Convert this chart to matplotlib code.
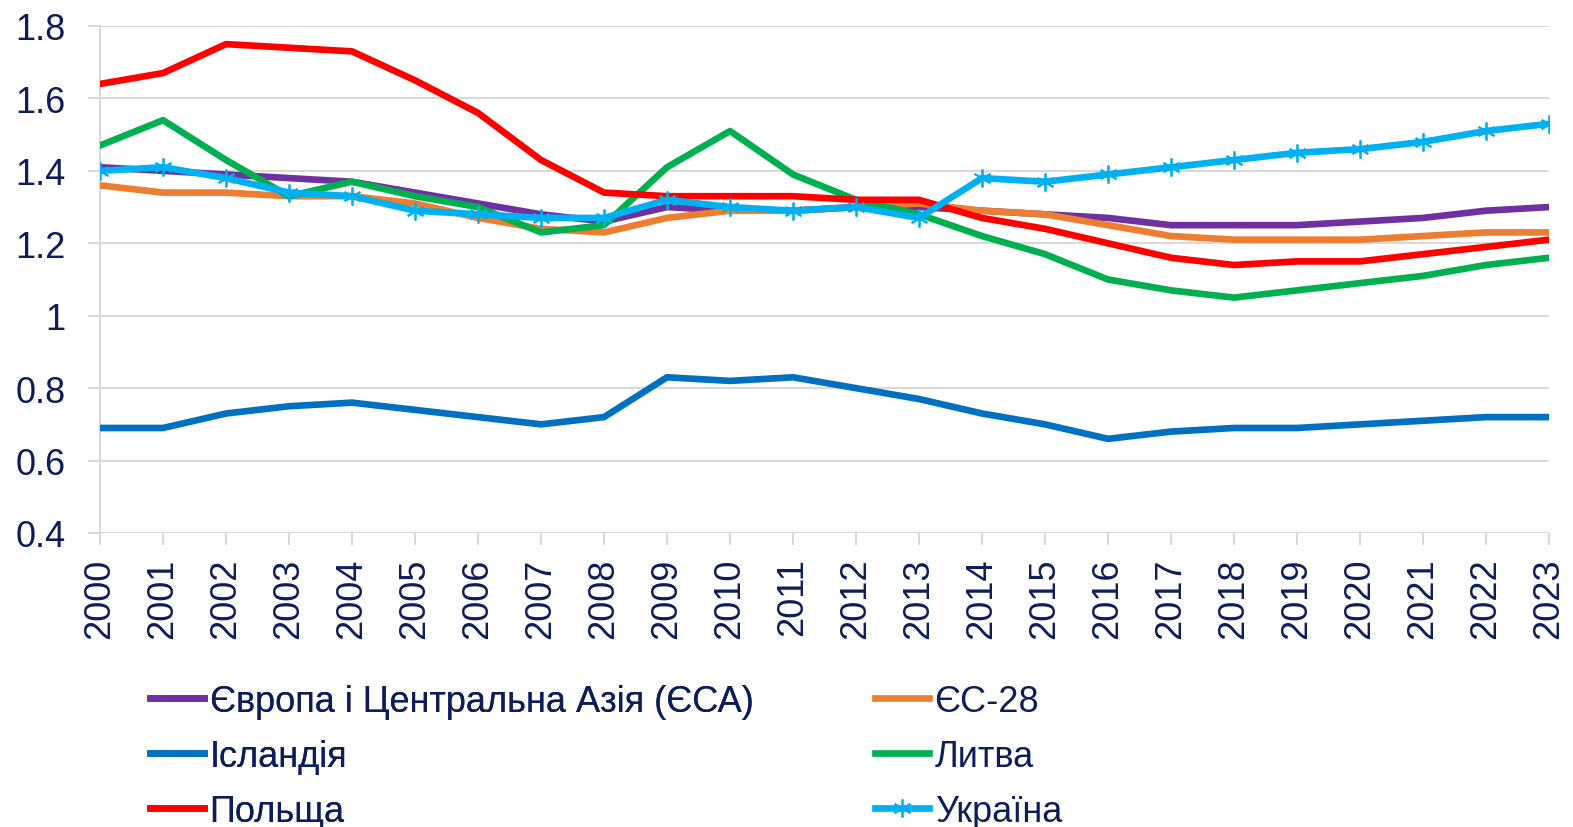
import matplotlib
matplotlib.use('Agg')
import matplotlib.pyplot as plt
import numpy as np

years = list(range(2000, 2024))

eca = [1.41, 1.40, 1.39, 1.38, 1.37, 1.34, 1.31, 1.28, 1.26, 1.30, 1.29, 1.29,
       1.30, 1.30, 1.29, 1.28, 1.27, 1.25, 1.25, 1.25, 1.26, 1.27, 1.29, 1.30]
eu28 = [1.36, 1.34, 1.34, 1.33, 1.33, 1.31, 1.27, 1.24, 1.23, 1.27, 1.29, 1.29,
        1.30, 1.31, 1.29, 1.28, 1.25, 1.22, 1.21, 1.21, 1.21, 1.22, 1.23, 1.23]
iceland = [0.69, 0.69, 0.73, 0.75, 0.76, 0.74, 0.72, 0.70, 0.72, 0.83, 0.82, 0.83,
           0.80, 0.77, 0.73, 0.70, 0.66, 0.68, 0.69, 0.69, 0.70, 0.71, 0.72, 0.72]
lithuania = [1.47, 1.54, 1.43, 1.33, 1.37, 1.33, 1.30, 1.23, 1.25, 1.41, 1.51, 1.39,
             1.32, 1.28, 1.22, 1.17, 1.10, 1.07, 1.05, 1.07, 1.09, 1.11, 1.14, 1.16]
poland = [1.64, 1.67, 1.75, 1.74, 1.73, 1.65, 1.56, 1.43, 1.34, 1.33, 1.33, 1.33,
          1.32, 1.32, 1.27, 1.24, 1.20, 1.16, 1.14, 1.15, 1.15, 1.17, 1.19, 1.21]
ukraine = [1.40, 1.41, 1.38, 1.34, 1.33, 1.29, 1.28, 1.27, 1.27, 1.32, 1.30, 1.29,
           1.30, 1.27, 1.38, 1.37, 1.39, 1.41, 1.43, 1.45, 1.46, 1.48, 1.51, 1.53]

names = ['Європа і Центральна Азія (ЄСА)', 'ЄС-28', 'Ісландія', 'Литва', 'Польща', 'Україна']
colors = ['#7030A0', '#ED7D31', '#0070C0', '#00B050', '#FF0000', '#00B0F0']
yticks = [0.4, 0.6, 0.8, 1, 1.2, 1.4, 1.6, 1.8]
ytick_labels = ['0.4', '0.6', '0.8', '1', '1.2', '1.4', '1.6', '1.8']

plt.rcParams['font.family'] = ['Liberation Sans', 'DejaVu Sans']
txt = '#0D1D5A'
fs = 26

fig = plt.figure(figsize=(15.73, 8.28), dpi=100)
ax = fig.add_axes([100/1573, 1 - 534/828, 1449/1573, 507/828])

series = [eca, eu28, iceland, lithuania, poland, ukraine]
lines = []
for i, (vals, c, n) in enumerate(zip(series, colors, names)):
    if n == 'Україна':
        # зірочка як в Excel
        ln, = ax.plot(years, vals, color=c, lw=4.8, marker=(6, 2, 0), ms=13,
                      mew=1.3, mec=c, label=n, zorder=3 + i)
    else:
        ln, = ax.plot(years, vals, color=c, lw=4.8, label=n, zorder=3 + i)
    lines.append(ln)

ax.set_xlim(2000, 2023)
ax.set_ylim(0.4, 1.8)
ax.set_yticks(yticks)
ax.set_yticklabels(ytick_labels)
ax.set_xticks(years)
ax.set_xticklabels([str(y) for y in years], rotation=90)
ax.grid(axis='y', color='#D9D9D9', lw=1.5)
for s in ['top', 'right', 'bottom']:
    ax.spines[s].set_visible(False)
ax.spines['left'].set_color('#D9D9D9')
ax.spines['left'].set_linewidth(1.5)
ax.tick_params(axis='both', colors='#D9D9D9', labelcolor=txt, labelsize=fs,
               length=8.6, width=1.5)
ax.tick_params(axis='x', pad=9)
ax.tick_params(axis='y', pad=16)
ax.set_axisbelow(True)

leg_kw = dict(frameon=False, fontsize=fs, handlelength=1.5, handletextpad=0.15,
              labelspacing=0.55, labelcolor=txt, borderpad=0, borderaxespad=0)
leg1 = fig.legend([lines[0], lines[2], lines[4]], [names[0], names[2], names[4]],
                  loc='upper left', bbox_to_anchor=(150/1573, 1 - 685/828), **leg_kw)
fig.add_artist(leg1)
fig.legend([lines[1], lines[3], lines[5]], [names[1], names[3], names[5]],
           loc='upper left', bbox_to_anchor=(875/1573, 1 - 685/828), **leg_kw)

fig.savefig('out.png', dpi=100)
